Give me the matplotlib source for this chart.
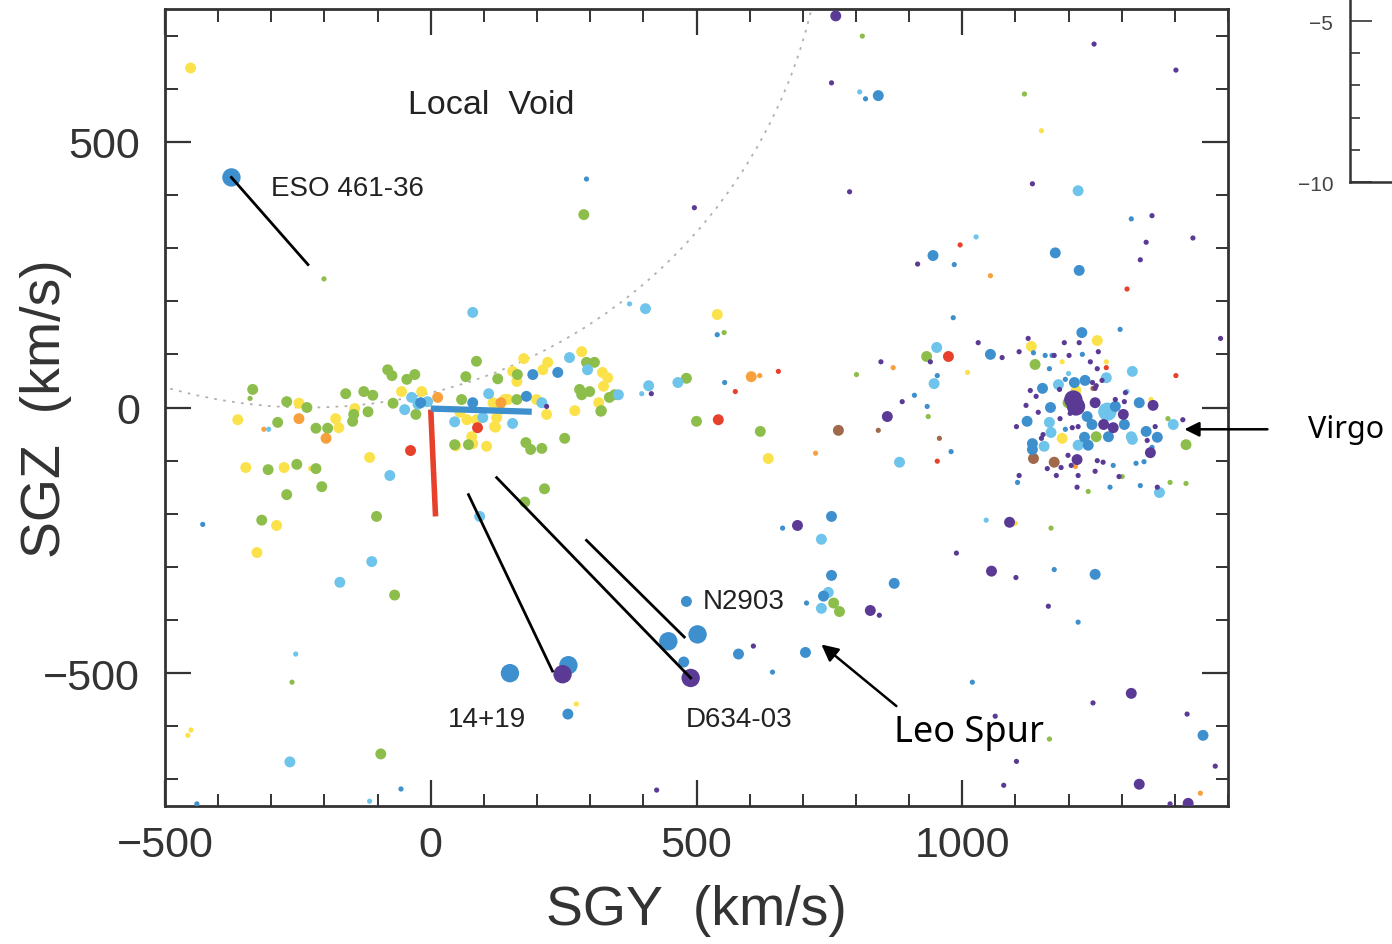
import matplotlib
matplotlib.use("Agg")
import matplotlib.pyplot as plt
from matplotlib.patches import Circle
from matplotlib.ticker import MultipleLocator

# galaxies: (SGY, SGZ, size class) ; size class 1 = tiny, 2 = medium, 3 = large
yellow = [(-452, 639, 2), (-363, -23, 2), (-248, 8, 2), (-179, -21, 2), (-173, -38, 2),
          (-143, -2, 2), (-55, 30, 2), (-17, 30, 2), (-115, -94, 2), (-348, -113, 2),
          (-276, -113, 2), (-226, -115, 1), (-290, -222, 2), (-327, -273, 2),
          (-457, -617, 1), (-451, -607, 1), (47, -72, 2), (77, -55, 2), (79, -68, 2),
          (105, -73, 2), (271, -6, 2), (122, -37, 2), (175, 92, 2), (154, 68, 2),
          (162, 49, 2), (211, 71, 2), (220, 85, 2), (284, 105, 2), (323, 66, 2),
          (333, 56, 2), (325, 40, 2), (316, 9, 2), (117, 9, 2), (145, 15, 2),
          (130, -4, 2), (199, 15, 2), (218, -13, 2), (55, -9, 2), (68, -23, 2),
          (86, -23, 2), (120, -36, 2), (124, -19, 2), (139, 15, 2), (274, -558, 1),
          (539, 175, 2), (635, -96, 2), (1010, 66, 1), (1130, 115, 2), (1254, 126, 2),
          (1214, 32, 2), (1188, -58, 2), (1149, 521, 1), (1188, 86, 1), (1355, 15, 1),
          (1271, 86, 1), (1100, -218, 1)]
green = [(-201, 242, 1), (288, 363, 2), (-335, 34, 2), (-340, 17, 1), (-288, -28, 2),
         (-271, 11, 2), (-233, 0, 2), (-216, -39, 2), (-194, -39, 2), (-160, 26, 2),
         (-145, -13, 2), (-147, -26, 2), (-126, 30, 2), (-109, 23, 2), (-118, -8, 2),
         (-81, 71, 2), (-73, 60, 2), (-45, 53, 2), (-30, 62, 2), (-71, 8, 2),
         (-28, -13, 2), (45, -70, 2), (-306, -117, 2), (-252, -107, 2), (-216, -115, 2),
         (-205, -149, 2), (-271, -164, 2), (-318, -212, 2), (-102, -205, 2),
         (-68, -353, 2), (-261, -517, 1), (-94, -652, 2), (177, -178, 2), (214, -153, 2),
         (179, -66, 2), (188, -79, 2), (209, -77, 2), (252, -58, 2), (71, -70, 2),
         (320, -7, 2), (86, 87, 2), (66, 58, 2), (126, 54, 2), (163, 62, 2),
         (293, 85, 2), (308, 85, 2), (280, 34, 2), (299, 30, 2), (284, 24, 2),
         (336, 19, 2), (346, 24, 2), (321, -6, 2), (58, 15, 2), (162, 15, 2),
         (552, 141, 1), (481, 55, 2), (801, 62, 1), (933, 96, 2), (936, -17, 1),
         (1137, 81, 2), (500, -26, 2), (620, -45, 2), (758, -368, 2), (769, -384, 2),
         (1167, -227, 1), (1164, -624, 1), (812, 699, 1), (1117, 590, 1), (1199, 9, 2),
         (1252, -55, 2), (1421, -70, 2), (1387, -21, 1), (1301, -130, 1),
         (1237, -158, 1), (1391, -141, 1), (1421, -143, 1)]
lightblue = [(79, 179, 2), (374, 195, 1), (404, 186, 2), (410, 41, 2), (397, 26, 1),
             (-305, -41, 1), (-49, -4, 2), (-36, 19, 2), (-24, 6, 2), (-6, 11, 2),
             (-77, -128, 2), (-111, -290, 2), (-171, -329, 2), (-254, -464, 1),
             (-265, -667, 2), (-115, -741, 1), (92, -205, 2), (45, -27, 2), (154, -30, 2),
             (261, 94, 2), (295, 71, 2), (353, 24, 2), (109, 26, 2), (209, 9, 2),
             (98, -19, 2), (807, 594, 1), (1218, 408, 2), (1026, 321, 1), (465, 47, 2),
             (952, 113, 2), (947, 45, 2), (1320, 68, 2), (882, -103, 2), (735, -248, 2),
             (748, -348, 2), (735, -378, 2), (1045, -212, 1), (1271, 56, 2),
             (1200, 64, 1), (1181, 43, 2), (1310, 30, 1), (1273, -8, 3), (1397, -32, 2),
             (1164, -28, 2), (1167, -47, 2), (1318, -55, 2), (1320, -60, 2),
             (1154, -73, 2), (1218, -71, 2), (1371, -160, 2)]
blue = [(-375, 433, 3), (293, 430, 1), (-19, 9, 2), (-429, -220, 1), (-56, -718, 1),
        (-440, -746, 1), (149, -500, 3), (259, -485, 3), (258, -577, 2), (239, 66, 2),
        (192, 62, 2), (79, 9, 2), (180, 21, 2), (842, 587, 2), (818, 581, 1),
        (1318, 355, 1), (945, 286, 2), (985, 269, 1), (1175, 291, 2), (1220, 258, 2),
        (983, 169, 1), (1297, 147, 1), (1225, 141, 2), (539, 137, 1), (553, 47, 1),
        (953, 60, 1), (910, 23, 1), (934, 2, 1), (1053, 100, 2), (979, -83, 1),
        (754, -205, 2), (662, -227, 1), (754, -316, 2), (872, -331, 2), (739, -355, 2),
        (707, -368, 1), (481, -365, 2), (502, -427, 3), (447, -440, 3), (476, -479, 2),
        (579, -464, 2), (705, -461, 2), (643, -498, 1), (1019, -517, 1),
        (1173, -305, 1), (1250, -314, 2), (1218, -404, 1), (1453, -617, 2),
        (1134, 103, 1), (1156, 98, 1), (1169, 98, 1), (1226, 100, 1), (1164, 73, 1),
        (1194, 53, 1), (1151, 36, 2), (1211, 47, 2), (1231, 51, 2), (1288, 2, 2),
        (1333, 9, 2), (1166, 0, 2), (1235, -17, 2), (1122, -26, 2), (1244, -32, 2),
        (1305, -32, 2), (1194, -41, 1), (1346, -45, 2), (1367, -56, 2), (1230, -56, 2),
        (1275, -55, 2), (1132, -68, 2), (1132, -79, 2), (1237, -71, 2), (1357, -75, 1),
        (1284, -109, 1), (1327, -105, 1), (1342, -102, 1), (1335, -147, 1),
        (1104, -141, 1), (1278, -150, 1)]
purple = [(762, 737, 2), (754, 611, 1), (1248, 684, 1), (1402, 635, 1), (1132, 421, 1),
          (788, 406, 1), (496, 376, 1), (1357, 361, 1), (916, 270, 1), (1346, 311, 1),
          (1434, 319, 1), (1335, 278, 1), (1486, 130, 1), (415, 26, 1), (218, 2, 1),
          (248, -502, 3), (489, -509, 3), (847, 86, 1), (940, 86, 1), (887, 11, 1),
          (859, -17, 2), (1030, 122, 1), (1075, 94, 1), (1107, 105, 1), (1124, 130, 1),
          (1192, 122, 1), (1220, 122, 1), (1256, 105, 1), (1201, 98, 1), (1173, 98, 1),
          (1241, 86, 1), (1254, 73, 1), (1263, 51, 1), (1252, 41, 1), (1245, 47, 1),
          (1183, 34, 1), (1250, 36, 1), (1128, 32, 1), (1139, 21, 1), (1288, 15, 1),
          (1305, 11, 1), (1307, 28, 1), (1120, 4, 1), (1143, -9, 1), (1184, -21, 1),
          (1203, -11, 1), (1415, -23, 1), (1363, -36, 1), (1102, -36, 1), (1218, -36, 1),
          (1207, -38, 1), (1149, -58, 1), (1152, -51, 1), (1348, -62, 1),
          (1209, 15, 3), (1214, 2, 3), (1250, 9, 2), (1303, -13, 2), (1359, 4, 2),
          (1266, -32, 2), (1284, -38, 2), (1354, -85, 2), (1216, -98, 2),
          (1199, -90, 1), (1205, -109, 1), (1186, -113, 1), (1160, -115, 1),
          (1177, -128, 1), (1254, -100, 1), (1265, -103, 1), (1250, -120, 1),
          (1295, -130, 1), (1218, -128, 1), (1107, -128, 1), (1216, -150, 1),
          (1367, -150, 1), (607, -449, 1), (690, -222, 2), (827, -382, 2), (844, -391, 1),
          (989, -274, 1), (1055, -308, 2), (1101, -320, 1), (1162, -374, 1),
          (1089, -216, 2), (1318, -538, 2), (1246, -556, 1), (1423, -577, 1),
          (1062, -581, 1), (1102, -666, 1), (1078, -711, 1), (1333, -709, 2),
          (1476, -675, 1), (1425, -745, 2), (1391, -746, 1), (425, -720, 1)]
red = [(-38, -81, 2), (88, -38, 2), (996, 306, 1), (1310, 223, 1), (654, 68, 1),
       (573, 30, 1), (974, 96, 2), (1271, 75, 1), (1402, 60, 1), (541, -23, 2),
       (953, -101, 1)]
orange = [(-314, -41, 1), (-248, -21, 2), (-197, -58, 2), (13, 19, 2), (132, 9, 2),
          (1053, 248, 1), (603, 58, 2), (619, 60, 1), (870, 75, 1), (724, -86, 1),
          (1448, -726, 1), (1213, -111, 1)]
brown = [(767, -43, 2), (842, -43, 1), (957, -58, 1), (1134, -96, 2), (1173, -103, 2),
         (1246, 36, 1)]

groups = [(yellow, "#fbe24b"), (green, "#8dbe4b"), (orange, "#f8a03c"),
          (red, "#e8412b"), (brown, "#a0694b"), (lightblue, "#6ec4ea"),
          (blue, "#3d8fcd"), (purple, "#5b3a95")]
sizes = {1: 14, 2: 62, 3: 175}

# peculiar velocity lines of named galaxies (start, end)
pointer_lines = [((-375, 433), (-231, 269)),
                 ((71, -164), (229, -496)),
                 ((124, -132), (489, -509)),
                 ((293, -250), (477, -432))]
labels = [("ESO 461-36", -301, 414), ("N2903", 511, -365),
          ("14+19", 105, -587), ("D634-03", 479, -587)]

local_void_center = (-230, 972)
local_void_radius = 972

red_vec = ([0, 9], [-4, -205])
blue_vec = ([0, 190], [-2, -8])

plt.rcParams['font.family'] = ['Liberation Sans', 'DejaVu Sans']

fig = plt.figure(figsize=(13.92, 9.45), dpi=100)
ax = fig.add_axes([165 / 1392, 138 / 945, 1063 / 1392, 797 / 945])

for pts, col in groups:
    xs = [p[0] for p in pts]
    ys = [p[1] for p in pts]
    ss = [sizes[p[2]] for p in pts]
    ax.scatter(xs, ys, s=ss, c=col, edgecolors='none', zorder=3)

ax.add_patch(Circle(local_void_center, local_void_radius, fill=False,
                    ls=(0, (1.5, 3.5)), lw=1.3, color='#b0b0b0', zorder=2))

for (x0, y0), (x1, y1) in pointer_lines:
    ax.plot([x0, x1], [y0, y1], color='black', lw=2, zorder=4)

ax.plot(*red_vec, color='#e8412b', lw=4, zorder=5, solid_capstyle='butt')
ax.plot(*blue_vec, color='#3d8fcd', lw=4.5, zorder=5, solid_capstyle='butt')

for txt, x, y in labels:
    ha = 'center' if txt == "14+19" else 'left'
    ax.text(x, y, txt, fontsize=20, ha=ha, va='center', color='#222222')

ax.text(113, 570, "Local  Void", fontsize=24.5, ha='center', va='center', color='#222222')

ax.annotate("Leo Spur", xy=(735, -446), xytext=(872, -611), fontsize=26,
            family=['Noto Sans', 'DejaVu Sans'], ha='left', va='center',
            arrowprops=dict(arrowstyle='-|>', color='black', lw=1.8,
                            mutation_scale=25, shrinkA=6, shrinkB=0,
                            relpos=(0.08, 1.0)), zorder=6)
ax.annotate("Virgo", xy=(1418, -41), xytext=(1650, -41), fontsize=22,
            family=['Noto Sans', 'DejaVu Sans'], ha='left', va='center',
            annotation_clip=False,
            arrowprops=dict(arrowstyle='-|>', color='black', lw=1.8,
                            mutation_scale=22, shrinkA=27, shrinkB=0,
                            relpos=(0.0, 0.5)))

ax.set_xlim(-500, 1500)
ax.set_ylim(-750, 750)
ax.set_xticks([-500, 0, 500, 1000])
ax.set_yticks([-500, 0, 500])
ax.xaxis.set_minor_locator(MultipleLocator(100))
ax.yaxis.set_minor_locator(MultipleLocator(100))
ax.tick_params(which='both', direction='in', top=True, right=True, color='#333333')
ax.tick_params(which='major', length=19, width=1.6, labelsize=31, labelcolor='#333333')
ax.tick_params(axis='x', which='major', pad=14)
ax.tick_params(axis='y', which='major', pad=18)
ax.tick_params(which='minor', length=9, width=1.4)
for sp in ax.spines.values():
    sp.set_linewidth(2)
    sp.set_color('#333333')

ax.set_xlabel("SGY  (km/s)", fontsize=40, color='#333333')
ax.set_ylabel("SGZ  (km/s)", fontsize=40, color='#333333')
ax.xaxis.set_label_coords(0.5, -0.098)
ax.yaxis.set_label_coords(-0.0875, 0.5)

# edge of the neighbouring panel
ax2 = fig.add_axes([1350 / 1392, 762 / 945, 0.3, 0.3])
ax2.set_ylim(-10, -10 + 0.3 * 945 / 32.2)
ax2.set_xlim(0, 1)
ax2.set_yticks([-5, -10])
ax2.set_yticklabels(["\u22125", "\u221210"])
ax2.yaxis.set_minor_locator(MultipleLocator(1))
ax2.set_xticks([])
ax2.spines['top'].set_visible(False)
ax2.spines['right'].set_visible(False)
ax2.tick_params(which='both', direction='in', color='#333333')
ax2.tick_params(which='major', length=16, width=1.2, labelsize=15, pad=12,
                labelcolor='#444444')
ax2.tick_params(which='minor', length=7, width=1.2)
for sp in ('left', 'bottom'):
    ax2.spines[sp].set_linewidth(1.8)
    ax2.spines[sp].set_color('#333333')
ax2.patch.set_alpha(0)

fig.savefig("out.png", dpi=100)
